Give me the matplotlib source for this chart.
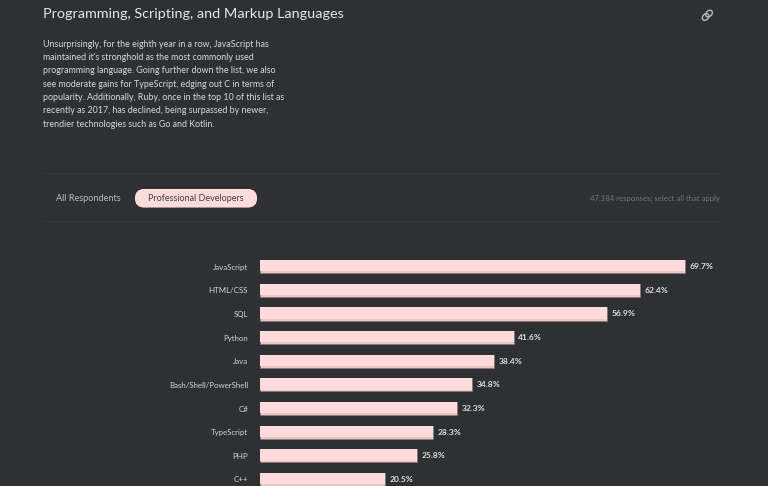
import matplotlib
matplotlib.use("Agg")
import matplotlib.pyplot as plt
from matplotlib.patches import FancyBboxPatch, Ellipse
from matplotlib.lines import Line2D

languages = ["JavaScript", "HTML/CSS", "SQL", "Python", "Java",
             "Bash/Shell/PowerShell", "C#", "TypeScript", "PHP", "C++"]
shares = [69.7, 62.4, 56.9, 41.6, 38.4, 34.8, 32.3, 28.3, 25.8, 20.5]
title = "Programming, Scripting, and Markup Languages"
body = ["Unsurprisingly, for the eighth year in a row, JavaScript has",
        "maintained it's stronghold as the most commonly used",
        "programming language. Going further down the list, we also",
        "see moderate gains for TypeScript, edging out C in terms of",
        "popularity. Additionally, Ruby, once in the top 10 of this list as",
        "recently as 2017, has declined, being surpassed by newer,",
        "trendier technologies such as Go and Kotlin."]
tab_left = "All Respondents"
tab_right = "Professional Developers"
note = "47,184 responses; select all that apply"

BG = "#2e3034"
W, H = 768, 486
plt.rcParams['font.family'] = ['Lato', 'DejaVu Sans']
fig = plt.figure(figsize=(W/100, H/100), dpi=100, facecolor=BG)

# page layer in pixel coordinates (top-left origin)
page = fig.add_axes([0, 0, 1, 1], facecolor=BG)
page.set_xlim(0, W); page.set_ylim(H, 0); page.axis("off")

page.text(43, 14, title, color="#e6e7e8", fontsize=10.4, va="center", ha="left")
for i, line in enumerate(body):
    page.text(43, 44.3 + i*13.33, line, color="#d8d9da", fontsize=6.43, va="center", ha="left")

for y in (173, 220.5):
    page.add_line(Line2D([43, 720], [y, y], color="#363a3e", lw=0.8))
page.text(56.5, 198.5, tab_left, color="#b9bcbf", fontsize=6.55, va="center", ha="left")
page.add_patch(FancyBboxPatch((135.5, 189.5), 121, 17.5, boxstyle="round,pad=0,rounding_size=8.7",
                              fc="#ffdcdb", ec="#ffdcdb", lw=0.8))
page.text(196, 198.5, tab_right, color="#3c3f43", fontsize=6.45, va="center", ha="center")
page.text(720, 198.2, note, color="#6b7680", fontsize=5.6, va="center", ha="right")

# link icon
for dx, dy in ((-1.7, 1.7), (1.7, -1.7)):
    page.add_patch(Ellipse((707.3+dx, 15.3+dy), 7.6, 5.6, angle=-45, fc="none", ec="#b8babc", lw=1.0))

# chart
LEFT, SCALE, Y0, STEP = 260, 425/69.7, 266.6, 23.65
ax = fig.add_axes([LEFT/W, 0, (W-LEFT)/W, 1], facecolor="none")
ax.set_xlim(0, (W-LEFT)/SCALE)
ax.set_ylim((H-Y0)/STEP, -Y0/STEP)
ypos = list(range(len(languages)))
ax.barh(ypos, shares, height=0.56, color="#ecc4c4", edgecolor="#87797b", linewidth=0.5)
ax.barh([y-0.035 for y in ypos], shares, height=0.48, color="#ffdcdb", edgecolor="none")
ax.set_yticks(ypos, languages)
ax.tick_params(axis="y", length=0, pad=8.6, labelsize=5.65, labelcolor="#d0d4d8")
ax.set_xticks([])
for s in ax.spines.values():
    s.set_visible(False)
for y, v in zip(ypos, shares):
    ax.annotate(f"{v}%", (v, y), xytext=(3.3, 0), textcoords="offset points",
                color="#dcdddf", fontsize=6.1, fontweight="bold", va="center", ha="left")

fig.savefig("out.png", dpi=100, facecolor=BG)
